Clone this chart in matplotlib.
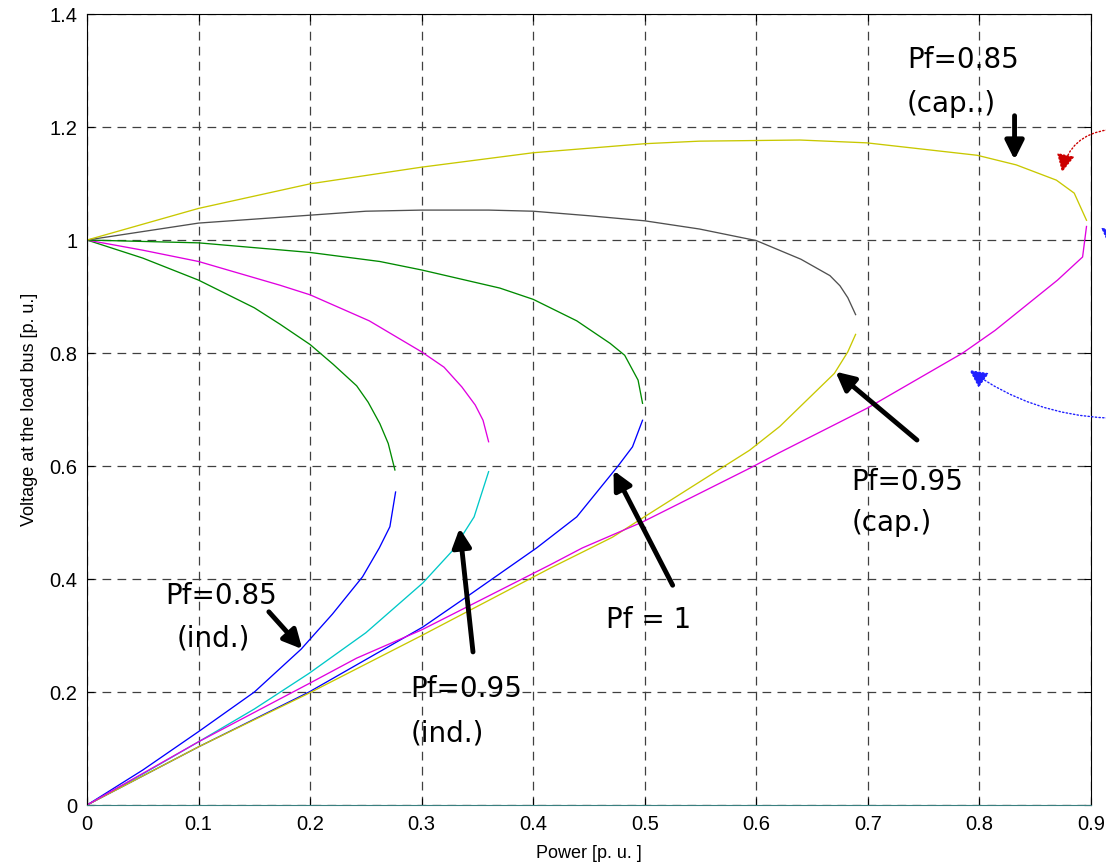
import matplotlib
matplotlib.use("Agg")
import matplotlib.pyplot as plt
import numpy as np

# nose curves, (P, V) in p.u.
# Pf = 0.85 inductive
ind85_up_p = [0, 0.05, 0.1, 0.15, 0.173, 0.2, 0.2207, 0.2417, 0.252, 0.2625, 0.27, 0.276]
ind85_up_v = [1.0, 0.968, 0.929, 0.88, 0.851, 0.815, 0.78, 0.742, 0.713, 0.675, 0.64, 0.593]
ind85_lo_p = [0, 0.05, 0.1, 0.15, 0.192, 0.22, 0.247, 0.262, 0.2715, 0.2766]
ind85_lo_v = [0, 0.062, 0.13, 0.2, 0.276, 0.338, 0.404, 0.455, 0.4926, 0.554]

# Pf = 0.95 inductive
ind95_up_p = [0, 0.05, 0.1, 0.173, 0.2, 0.253, 0.3, 0.32, 0.336, 0.348, 0.355, 0.36]
ind95_up_v = [1.0, 0.982, 0.962, 0.92, 0.903, 0.857, 0.802, 0.775, 0.74, 0.708, 0.681, 0.643]
ind95_lo_p = [0, 0.05, 0.1, 0.15, 0.199, 0.25, 0.301, 0.328, 0.347, 0.36]
ind95_lo_v = [0, 0.055, 0.112, 0.17, 0.233, 0.305, 0.393, 0.451, 0.51, 0.59]

# Pf = 1
pf1_up_p = [0, 0.1, 0.2, 0.2625, 0.3, 0.37, 0.4, 0.439, 0.469, 0.482, 0.494, 0.498]
pf1_up_v = [1.0, 0.995, 0.978, 0.962, 0.947, 0.915, 0.895, 0.857, 0.817, 0.796, 0.752, 0.711]
pf1_lo_p = [0, 0.1, 0.199, 0.301, 0.34, 0.403, 0.439, 0.476, 0.489, 0.498]
pf1_lo_v = [0, 0.103, 0.2, 0.315, 0.368, 0.455, 0.51, 0.6, 0.634, 0.681]

# Pf = 0.95 capacitive
cap95_up_p = [0, 0.1, 0.2, 0.25, 0.3, 0.36, 0.4, 0.45, 0.5, 0.549, 0.6, 0.64, 0.666, 0.675, 0.682, 0.689]
cap95_up_v = [1.0, 1.03, 1.044, 1.051, 1.053, 1.053, 1.051, 1.043, 1.034, 1.0195, 0.999, 0.966, 0.937, 0.919, 0.898, 0.868]
cap95_lo_p = [0, 0.1, 0.199, 0.3, 0.415, 0.471, 0.498, 0.594, 0.621, 0.67, 0.682, 0.689]
cap95_lo_v = [0, 0.103, 0.198, 0.3, 0.419, 0.474, 0.508, 0.628, 0.67, 0.764, 0.802, 0.833]

# Pf = 0.85 capacitive
cap85_up_p = [0, 0.1, 0.2, 0.3, 0.4, 0.5, 0.549, 0.639, 0.699, 0.798, 0.833, 0.869, 0.885, 0.896]
cap85_up_v = [1.0, 1.056, 1.0995, 1.129, 1.1545, 1.1705, 1.175, 1.177, 1.172, 1.150, 1.133, 1.106, 1.083, 1.035]
cap85_lo_p = [0, 0.1, 0.2, 0.2417, 0.3, 0.415, 0.444, 0.498, 0.594, 0.621, 0.70, 0.785, 0.814, 0.87, 0.8925, 0.896]
cap85_lo_v = [0, 0.112, 0.216, 0.26, 0.31, 0.425, 0.455, 0.501, 0.596, 0.624, 0.703, 0.8, 0.84, 0.929, 0.97, 1.024]

xticks = [0, 0.1, 0.2, 0.3, 0.4, 0.5, 0.6, 0.7, 0.8, 0.9]
xticklabels = ["0", "0.1", "0.2", "0.3", "0.4", "0.5", "0.6", "0.7", "0.8", "0.9"]
yticks = [0, 0.2, 0.4, 0.6, 0.8, 1.0, 1.2, 1.4]
yticklabels = ["0", "0.2", "0.4", "0.6", "0.8", "1", "1.2", "1.4"]

green = "#008a00"
blue = "#0000ff"
magenta = "#e000e0"
cyan = "#00c8c8"
yellow = "#c8c800"
gray = "#505050"

fig = plt.figure(figsize=(11.06, 8.66), dpi=100)
ax = fig.add_axes([0.0787, 0.0704, 0.9077, 0.9134])

lw = 0.95
ax.plot(ind85_up_p, ind85_up_v, color=green, lw=lw)
ax.plot(ind85_lo_p, ind85_lo_v, color=blue, lw=lw)
ax.plot(ind95_up_p, ind95_up_v, color=magenta, lw=lw)
ax.plot(ind95_lo_p, ind95_lo_v, color=cyan, lw=lw)
ax.plot(pf1_up_p, pf1_up_v, color=green, lw=lw)
ax.plot(pf1_lo_p, pf1_lo_v, color=blue, lw=lw)
ax.plot(cap95_up_p, cap95_up_v, color=gray, lw=lw)
ax.plot(cap95_lo_p, cap95_lo_v, color=yellow, lw=lw)
ax.plot(cap85_up_p, cap85_up_v, color=yellow, lw=lw)
ax.plot(cap85_lo_p, cap85_lo_v, color=magenta, lw=lw)

ax.set_xlim(0, 0.9)
ax.set_ylim(0, 1.4)
ax.set_xticks(xticks)
ax.set_xticklabels(xticklabels)
ax.set_yticks(yticks)
ax.set_yticklabels(yticklabels)
ax.tick_params(direction="in", top=True, right=True, labelsize=14.5, length=5)
ax.tick_params(axis="x", pad=7)
ax.tick_params(axis="y", pad=7)
for lab in ax.get_xticklabels() + ax.get_yticklabels():
    lab.set_family("Liberation Sans")
ax.grid(True, color="#404040", lw=0.9, linestyle=(0, (7, 5)))
ax.spines["bottom"].set_color("#3a8080")
ax.set_xlabel("Power [p. u. ]", family="Liberation Sans", fontsize=13, labelpad=8)
ax.set_ylabel("Voltage at the load bus [p. u.]", family="Liberation Sans", fontsize=13, labelpad=8)

# annotations
tfont = dict(family="DejaVu Sans", fontsize=20, color="black")
black_arrow = dict(arrowstyle="-|>", color="black", lw=3.5, mutation_scale=28, shrinkA=0, shrinkB=0)

ax.text(0.735, 1.318, "Pf=0.85", ha="left", va="center", **tfont)
ax.text(0.735, 1.24, "(cap..)", ha="left", va="center", **tfont)
ax.annotate("", xy=(0.8315, 1.142), xytext=(0.8315, 1.22), arrowprops=black_arrow, annotation_clip=False)

ax.text(0.685, 0.572, "Pf=0.95", ha="left", va="center", **tfont)
ax.text(0.685, 0.50, "(cap.)", ha="left", va="center", **tfont)
ax.annotate("", xy=(0.671, 0.767), xytext=(0.744, 0.646), arrowprops=black_arrow, annotation_clip=False)

ax.text(0.465, 0.327, "Pf = 1", ha="left", va="center", **tfont)
ax.annotate("", xy=(0.472, 0.592), xytext=(0.525, 0.389), arrowprops=black_arrow, annotation_clip=False)

ax.text(0.29, 0.205, "Pf=0.95", ha="left", va="center", **tfont)
ax.text(0.29, 0.127, "(ind.)", ha="left", va="center", **tfont)
ax.annotate("", xy=(0.334, 0.49), xytext=(0.346, 0.271), arrowprops=black_arrow, annotation_clip=False)

ax.text(0.07, 0.37, "Pf=0.85", ha="left", va="center", **tfont)
ax.text(0.08, 0.295, "(ind.)", ha="left", va="center", **tfont)
ax.annotate("", xy=(0.193, 0.276), xytext=(0.163, 0.342), arrowprops=black_arrow, annotation_clip=False)

# dotted arrows pointing at the nose from outside the plot
ax.annotate("", xy=(0.874, 1.12), xytext=(0.915, 1.195),
            arrowprops=dict(arrowstyle="-|>", color="#cc0000", lw=1.0, ls=":", mutation_scale=28,
                            connectionstyle="arc3,rad=0.35", shrinkA=0, shrinkB=0),
            annotation_clip=False)
ax.annotate("", xy=(0.909, 1.022), xytext=(0.935, 0.93),
            arrowprops=dict(arrowstyle="-|>", color="#2020ff", lw=1.0, ls=":", mutation_scale=28,
                            connectionstyle="arc3,rad=0.2", shrinkA=0, shrinkB=0),
            annotation_clip=False)
ax.annotate("", xy=(0.791, 0.77), xytext=(0.915, 0.685),
            arrowprops=dict(arrowstyle="-|>", color="#2020ff", lw=1.0, ls=":", mutation_scale=28,
                            connectionstyle="arc3,rad=-0.15", shrinkA=0, shrinkB=0),
            annotation_clip=False)

fig.savefig("out.png", dpi=100)
